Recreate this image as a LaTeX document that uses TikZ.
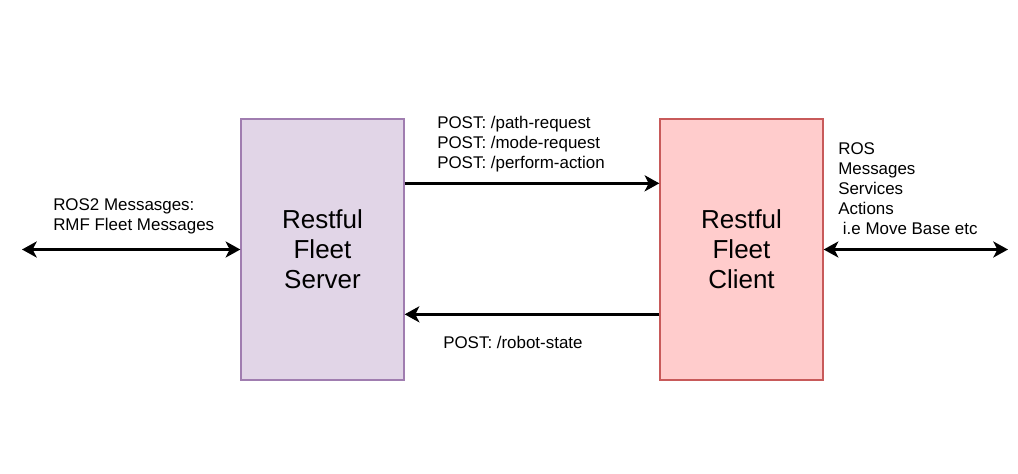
\documentclass[tikz,border=0pt]{standalone}
\usepackage{fontspec}
\setmainfont{Liberation Sans}
\usepackage{xcolor}
\usetikzlibrary{arrows.meta,calc}
\definecolor{srvfill}{HTML}{E1D5E7}
\definecolor{srvline}{HTML}{A07DB0}
\definecolor{clifill}{HTML}{FFCCCC}
\definecolor{cliline}{HTML}{C85A5A}

\begin{document}
\begin{tikzpicture}[x=0.75pt,y=-0.75pt,
  block/.style={minimum width=122.25pt,minimum height=195.75pt,line width=1pt,align=center,
    font=\fontsize{19.5pt}{22.5pt}\selectfont},
  msg/.style={anchor=north west,inner sep=0pt,align=left,font=\fontsize{12.7pt}{15pt}\selectfont},
  link/.style={line width=2.1pt,-{Stealth[length=11pt,width=12pt,inset=3pt]}},
  dlink/.style={line width=2.1pt,{Stealth[length=11pt,width=12pt,inset=3pt]}-{Stealth[length=11pt,width=12pt,inset=3pt]}}]
\useasboundingbox (0,0) rectangle (1018,474);
\node[block,draw=srvline,fill=srvfill] (srv) at (322.5,249.5) {Restful\\Fleet\\Server};
\node[block,draw=cliline,fill=clifill] (cli) at (741.5,249.5) {Restful\\Fleet\\Client};
\coordinate (lend) at (22,249.5);
\coordinate (rend) at (1008,249.5);
\draw[dlink] (lend) -- (srv.west);
\draw[dlink] (cli.east) -- (rend);
\draw[link] ($(srv.north east)+(0,65)$) -- ($(cli.north west)+(0,65)$);
\draw[link] ($(cli.north west)+(0,196)$) -- ($(srv.north east)+(0,196)$);
\node[msg] (ros2) at (53,198) {ROS2 Messasges:\\RMF Fleet Messages};
\node[msg] (req) at (437,116) {POST: /path-request\\POST: /mode-request\\POST: /perform-action};
\node[msg] (ros) at (838,142) {ROS\\Messages\\Services\\Actions\\\ i.e Move Base etc};
\node[msg] (state) at (443,336) {POST: /robot-state};
\end{tikzpicture}
\end{document}
